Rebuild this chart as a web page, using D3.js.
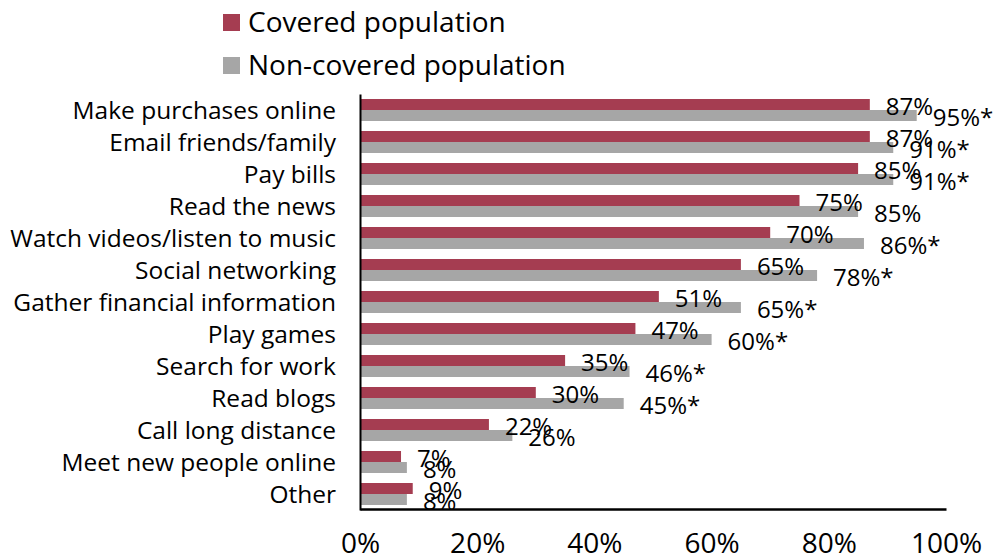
<!DOCTYPE html>
<html>
<head>
<meta charset="utf-8">
<script src="https://cdn.jsdelivr.net/npm/d3@7"></script>
<style>
  html, body { margin: 0; padding: 0; background: #fff; }
  svg { display: block; font-family: "Open Sans", "Liberation Sans", sans-serif; }
</style>
</head>
<body>
<svg id="chart" width="1005" height="560"></svg>
<script>
// Online activities, share of respondents by coverage status
const categories = [
  "Make purchases online",
  "Email friends/family",
  "Pay bills",
  "Read the news",
  "Watch videos/listen to music",
  "Social networking",
  "Gather financial information",
  "Play games",
  "Search for work",
  "Read blogs",
  "Call long distance",
  "Meet new people online",
  "Other"
];
const seriesNames = ["Covered population", "Non-covered population"];
const covered    = [87, 87, 85, 75, 70, 65, 51, 47, 35, 30, 22, 7, 9];
const nonCovered = [95, 91, 91, 85, 86, 78, 65, 60, 46, 45, 26, 8, 8];
// asterisk marks a significant difference
const nonCoveredSig = [true, true, true, false, true, true, true, true, true, true, false, false, false];
const xTicks = [0, 20, 40, 60, 80, 100];

const colors = ["#A53D51", "#A6A6A6"];

const svg = d3.select("#chart");

const x = d3.scaleLinear().domain([0, 100]).range([360, 946]);
const y = d3.scaleBand().domain(categories).range([94, 510]).padding(0);
const sub = d3.scaleBand().domain([0, 1]).range([5, 27]).padding(0);

const rows = categories.map((c, i) => ({
  cat: c,
  vals: [
    { s: 0, v: covered[i], label: covered[i] + "%" },
    { s: 1, v: nonCovered[i], label: nonCovered[i] + "%" + (nonCoveredSig[i] ? "*" : "") }
  ]
}));

// bars
const g = svg.append("g");
const rowG = g.selectAll("g.row").data(rows).join("g")
  .attr("class", "row")
  .attr("transform", d => `translate(0,${y(d.cat)})`);

rowG.selectAll("rect").data(d => d.vals).join("rect")
  .attr("x", x(0))
  .attr("y", d => sub(d.s))
  .attr("width", d => x(d.v) - x(0))
  .attr("height", sub.bandwidth())
  .attr("fill", d => colors[d.s]);

// value labels
rowG.selectAll("text.val").data(d => d.vals).join("text")
  .attr("class", "val")
  .attr("x", d => x(d.v) + 16)
  .attr("y", d => sub(d.s) + sub.bandwidth() / 2 + 10)
  .attr("font-size", 24)
  .attr("fill", "#000")
  .text(d => d.label);

// category labels
svg.append("g").selectAll("text").data(categories).join("text")
  .attr("x", 336)
  .attr("y", d => y(d) + y.bandwidth() / 2 + 8.6)
  .attr("text-anchor", "end")
  .attr("font-size", 24.5)
  .attr("fill", "#000")
  .text(d => d);

// axes
const xAxis = d3.axisBottom(x).tickValues(xTicks).tickFormat(d => d + "%").tickSize(0).tickPadding(0);
const ax = svg.append("g").attr("transform", "translate(0,509)").call(xAxis);
ax.select(".domain").attr("stroke", "#000").attr("stroke-width", 2.5);
ax.selectAll(".tick text")
  .attr("font-size", 28)
  .attr("font-family", "\"Open Sans\", \"Liberation Sans\", sans-serif")
  .attr("fill", "#000")
  .attr("dy", 0)
  .attr("y", 44);

const yAxis = d3.axisLeft(y).tickSize(0).tickFormat("");
const ay = svg.append("g").attr("transform", `translate(${x(0)},0)`).call(yAxis);
ay.select(".domain").attr("stroke", "#000").attr("stroke-width", 2);

// legend
const leg = svg.append("g").selectAll("g").data(seriesNames).join("g")
  .attr("transform", (d, i) => `translate(223,${14 + i * 43})`);
leg.append("rect").attr("width", 17).attr("height", 17).attr("fill", (d, i) => colors[i]);
leg.append("text")
  .attr("x", 25)
  .attr("y", 18)
  .attr("font-size", 28)
  .attr("fill", "#000")
  .text(d => d);
</script>
</body>
</html>
